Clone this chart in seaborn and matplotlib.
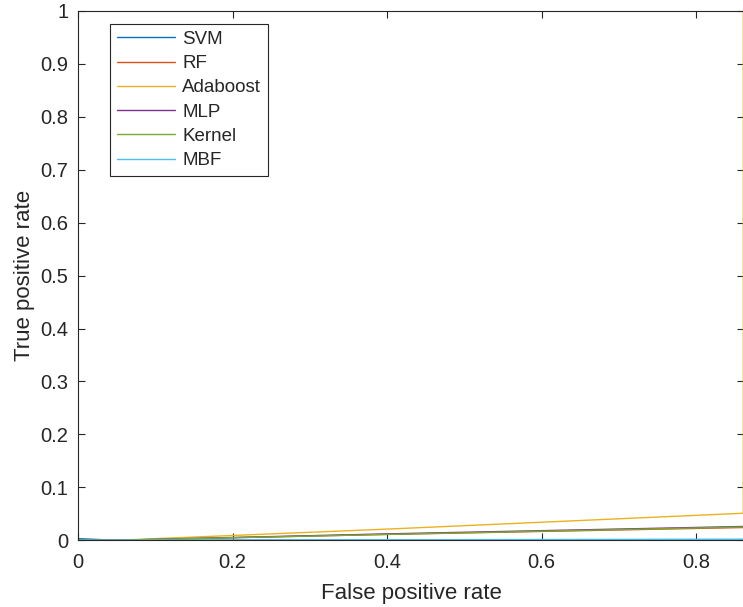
import numpy as np
import pandas as pd
import matplotlib
matplotlib.use("Agg")
import matplotlib.pyplot as plt
import seaborn as sns

# ROC points (x = false positive rate, y = true positive rate)
MODELS = ["SVM", "RF", "Adaboost", "MLP", "Kernel", "MBF"]
FPR = {
    "SVM":      [0.0, 0.05, 0.861],
    "RF":       [0.0, 0.05, 0.4, 0.861],
    "Adaboost": [0.0, 0.05, 0.4, 0.861, 0.861],
    "MLP":      [0.0, 0.05, 0.4, 0.861],
    "Kernel":   [0.0, 0.05, 0.4, 0.861],
    "MBF":      [0.0, 0.05, 0.861],
}
TPR = {
    "SVM":      [0.003, 0.0, 0.0],
    "RF":       [0.0, 0.0, 0.011, 0.024],
    "Adaboost": [0.0, 0.0, 0.021, 0.051, 1.0],
    "MLP":      [0.0, 0.0, 0.012, 0.026],
    "Kernel":   [0.0, 0.0, 0.011, 0.025],
    "MBF":      [0.0, 0.0, 0.002],
}
COLORS = ["#0072BD", "#D95319", "#EDB120", "#7E2F8E", "#77AC30", "#4DBEEE"]

X_TICKS = [0, 0.2, 0.4, 0.6, 0.8]
Y_TICKS = [0, 0.1, 0.2, 0.3, 0.4, 0.5, 0.6, 0.7, 0.8, 0.9, 1]

# long-form table for seaborn
rows = []
for m in MODELS:
    for i, (x, y) in enumerate(zip(FPR[m], TPR[m])):
        rows.append({"model": m, "order": i, "fpr": x, "tpr": y})
df = pd.DataFrame(rows)

sns.set_style("ticks")
plt.rcParams["font.family"] = ["Liberation Sans", "DejaVu Sans"]
plt.rcParams["xtick.direction"] = "in"
plt.rcParams["ytick.direction"] = "in"

GREY = "#262626"

fig = plt.figure(figsize=(7.43, 6.07), dpi=100)
# right spine sits just past the picture edge, as in the cropped original
ax = fig.add_axes([0.105, 0.110, 0.897, 0.872])

sns.lineplot(
    data=df, x="fpr", y="tpr", hue="model", hue_order=MODELS,
    palette=COLORS, units="model", sort=False, estimator=None,
    linewidth=1.0, ax=ax,
)

ax.set_xlim(0, 0.8625)
ax.set_ylim(0, 1)
ax.set_xticks(X_TICKS)
ax.set_xticklabels([f"{t:g}" for t in X_TICKS])
ax.set_yticks(Y_TICKS)
ax.set_yticklabels([f"{t:g}" for t in Y_TICKS])
ax.tick_params(top=True, right=True, length=5, width=0.8, colors=GREY,
               labelsize=14.5)
ax.tick_params(axis="x", pad=9)
ax.tick_params(axis="y", pad=7)
for s in ax.spines.values():
    s.set_visible(True)
    s.set_color(GREY)
    s.set_linewidth(0.8)

ax.set_xlabel("False positive rate", fontsize=16, color=GREY, labelpad=8)
ax.set_ylabel("True positive rate", fontsize=16, color=GREY, labelpad=4)

leg = ax.legend(loc="upper left", bbox_to_anchor=(0.048, 0.975), fontsize=13.5,
                frameon=True, fancybox=False, edgecolor=GREY, framealpha=1,
                handlelength=3.1, handletextpad=0.4, labelspacing=0.38,
                borderpad=0.35, borderaxespad=0)
leg.get_frame().set_linewidth(0.8)
for t in leg.get_texts():
    t.set_color(GREY)

fig.savefig("out.png", dpi=100)
